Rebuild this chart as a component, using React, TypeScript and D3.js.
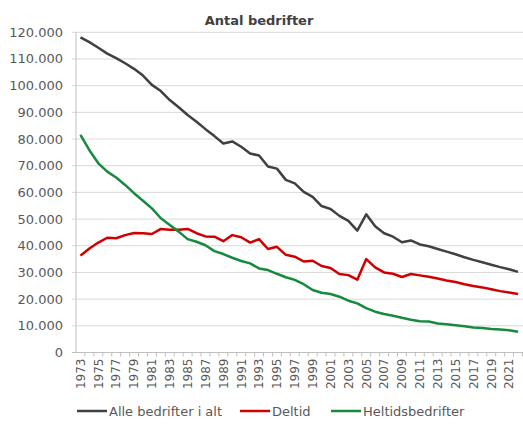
import React, { useEffect, useRef } from "react";
import * as d3 from "d3";

const years = d3.range(1973, 2023).map(String);

const alle = [
  118100, 116300, 114200, 112000, 110300, 108400, 106300, 103800, 100300, 98000,
  94600, 91900, 89000, 86500, 83700, 81100, 78300, 79100, 77100, 74600,
  73800, 69700, 68900, 64700, 63400, 60200, 58300, 54900, 53800, 51200,
  49300, 45700, 51800, 47300, 44700, 43400, 41300, 42000, 40500, 39800,
  38800, 37800, 36800, 35700, 34700, 33800, 32900, 32000, 31200, 30200,
];

const deltid = [
  36300, 39000, 41200, 43000, 42800, 44000, 44800, 44700, 44400, 46300,
  46000, 46000, 46300, 44700, 43500, 43400, 41700, 44000, 43200, 41200,
  42500, 38800, 39600, 36600, 35900, 34100, 34400, 32400, 31700, 29400,
  29000, 27300, 35000, 31900, 30000, 29500, 28300, 29400, 28900, 28400,
  27700, 27000, 26400, 25600, 24900, 24400, 23700, 23000, 22500, 21900,
];

const heltid = [
  81600, 75800, 70900, 67800, 65600, 62800, 59700, 56900, 54000, 50300,
  47800, 45300, 42500, 41500, 40200, 38000, 36900, 35500, 34300, 33400,
  31500, 30900, 29500, 28200, 27200, 25600, 23400, 22400, 21900, 20900,
  19400, 18400, 16600, 15300, 14400, 13800, 13000, 12300, 11700, 11600,
  10900, 10600, 10200, 9800, 9400, 9200, 8800, 8600, 8300, 7800,
];

const seriesNames = ["Alle bedrifter i alt", "Deltid", "Heltidsbedrifter"];
const seriesColors = ["#404040", "#d00000", "#178a3e"];
const yTicks = d3.range(0, 120001, 10000);

export default function App() {
  const svgRef = useRef<SVGSVGElement>(null);

  useEffect(() => {
    const svg = d3.select(svgRef.current);
    svg.selectAll("*").remove();

    const font = "DejaVu Sans, sans-serif";
    const left = 76;
    const right = 522.5;
    const top = 32.3;
    const bottom = 352.5;

    const x = d3.scaleBand().domain(years).range([left, right]);
    const y = d3.scaleLinear().domain([0, 120000]).range([bottom, top]);

    // title
    svg
      .append("text")
      .attr("x", 259)
      .attr("y", 25)
      .attr("text-anchor", "middle")
      .style("font-family", font)
      .style("font-size", "13px")
      .style("font-weight", "bold")
      .style("fill", "#404040")
      .text("Antal bedrifter");

    // gridlines
    svg
      .append("g")
      .selectAll("line")
      .data(yTicks.filter((d) => d > 0))
      .join("line")
      .attr("x1", left - 4)
      .attr("x2", 523)
      .attr("y1", (d) => y(d))
      .attr("y2", (d) => y(d))
      .attr("stroke", "#d9d9d9")
      .attr("stroke-width", 1);

    // y labels
    svg
      .append("g")
      .selectAll("text")
      .data(yTicks)
      .join("text")
      .attr("x", 63)
      .attr("y", (d) => y(d) + 4.5)
      .attr("text-anchor", "end")
      .style("font-family", font)
      .style("font-size", "13px")
      .style("fill", "#595959")
      .text((d) => d3.format(",")(d).replace(/,/g, "."));

    // axes
    const axisColor = "#bfbfbf";
    svg
      .append("line")
      .attr("x1", left)
      .attr("x2", left)
      .attr("y1", top)
      .attr("y2", bottom)
      .attr("stroke", axisColor);
    svg
      .append("line")
      .attr("x1", left - 4)
      .attr("x2", 523)
      .attr("y1", bottom)
      .attr("y2", bottom)
      .attr("stroke", axisColor);

    svg
      .append("g")
      .selectAll("line")
      .data(years)
      .join("line")
      .attr("x1", (d) => x(d)! + x.bandwidth())
      .attr("x2", (d) => x(d)! + x.bandwidth())
      .attr("y1", bottom)
      .attr("y2", bottom + 4)
      .attr("stroke", axisColor);

    // x labels
    svg
      .append("g")
      .selectAll("text")
      .data(years.filter((_, i) => i % 2 === 0))
      .join("text")
      .attr(
        "transform",
        (d) => `translate(${x(d)! + x.bandwidth() / 2 + 4.3},${bottom + 6}) rotate(-90)`
      )
      .attr("text-anchor", "end")
      .style("font-family", font)
      .style("font-size", "12px")
      .style("fill", "#595959")
      .text((d) => d);

    // lines
    const line = d3
      .line<number>()
      .x((_, i) => x(years[i])! + x.bandwidth() / 2)
      .y((d) => y(d));

    [alle, deltid, heltid].forEach((values, k) => {
      svg
        .append("path")
        .datum(values)
        .attr("fill", "none")
        .attr("stroke", seriesColors[k])
        .attr("stroke-width", 2.5)
        .attr("stroke-linejoin", "round")
        .attr("d", line);
    });

    // legend
    const legendX = [77, 240, 331];
    const legend = svg
      .append("g")
      .selectAll("g")
      .data(seriesNames)
      .join("g")
      .attr("transform", (_, i) => `translate(${legendX[i]},411)`);

    legend
      .append("line")
      .attr("x1", 0)
      .attr("x2", 30)
      .attr("stroke", (_, i) => seriesColors[i])
      .attr("stroke-width", 2.5);

    legend
      .append("text")
      .attr("x", 32)
      .attr("y", 5)
      .style("font-family", font)
      .style("font-size", "13px")
      .style("fill", "#595959")
      .text((d) => d);
  }, []);

  return (
    <svg
      ref={svgRef}
      width="523"
      height="428"
      style={{ position: "absolute", left: 0, top: 0, background: "#fff" }}
    ></svg>
  );
}
